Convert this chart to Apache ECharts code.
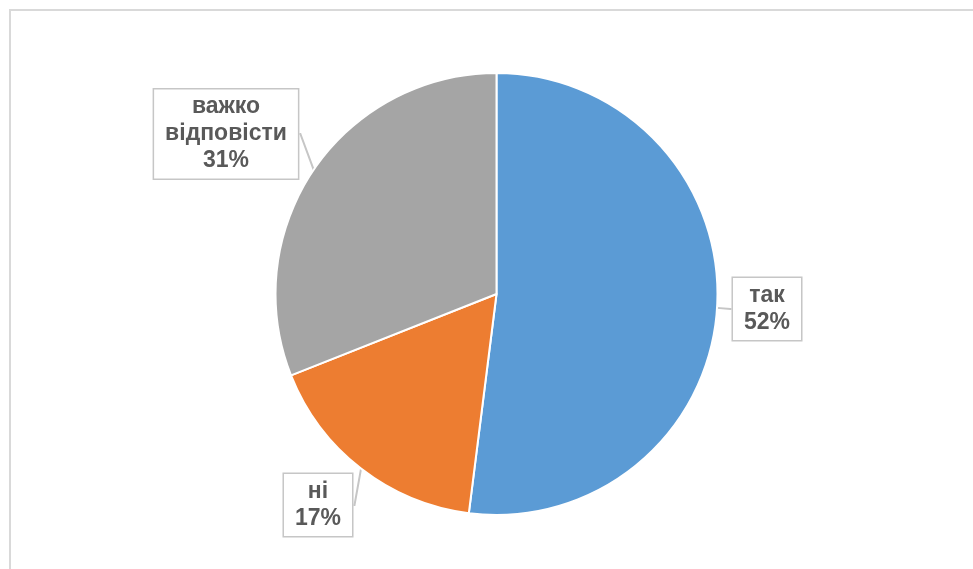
<!DOCTYPE html>
<html>
<head>
<meta charset="utf-8">
<script src="https://cdn.jsdelivr.net/npm/echarts@6/dist/echarts.min.js"></script>
<style>
html,body{margin:0;padding:0;background:#fff;}
#chart{width:973px;height:569px;}
</style>
</head>
<body>
<div id="chart"></div>
<script>
var categories = ['так', 'ні', 'важко відповісти'];
var values = [52, 17, 31];
var colors = ['#5b9bd5', '#ed7d31', '#a5a5a5'];
var labelCenters = [[767, 309], [318, 505], [226, 134]];

var chart = echarts.init(document.getElementById('chart'));
var data = categories.map(function (c, i) {
  return { name: c, value: values[i], itemStyle: { color: colors[i] } };
});
chart.setOption({
  animation: false,
  backgroundColor: '#ffffff',
  graphic: [{
    type: 'rect',
    shape: { x: 10, y: 10, width: 1000, height: 600 },
    style: { fill: 'none', stroke: '#d9d9d9', lineWidth: 2 },
    silent: true
  }],
  series: [{
    type: 'pie',
    center: [496.5, 294],
    radius: 221,
    startAngle: 90,
    clockwise: true,
    data: data,
    itemStyle: { borderColor: '#ffffff', borderWidth: 2 },
    label: {
      show: true,
      position: 'outside',
      formatter: function (p) {
        return p.name.replace(' ', '\n') + '\n' + p.value + '%';
      },
      fontFamily: 'Liberation Sans, Arial, sans-serif',
      fontWeight: 'bold',
      fontSize: 23,
      lineHeight: 27,
      color: '#595959',
      align: 'center',
      backgroundColor: '#ffffff',
      borderColor: '#c6c6c6',
      borderWidth: 1.5,
      padding: [4, 11, 4, 11]
    },
    labelLine: {
      show: true,
      length: 1,
      length2: 1,
      lineStyle: { color: '#c6c6c6', width: 2 }
    },
    labelLayout: function (params) {
      var c = labelCenters[params.dataIndex];
      return { x: c[0], y: c[1], align: 'center', verticalAlign: 'middle' };
    }
  }]
});
</script>
</body>
</html>
